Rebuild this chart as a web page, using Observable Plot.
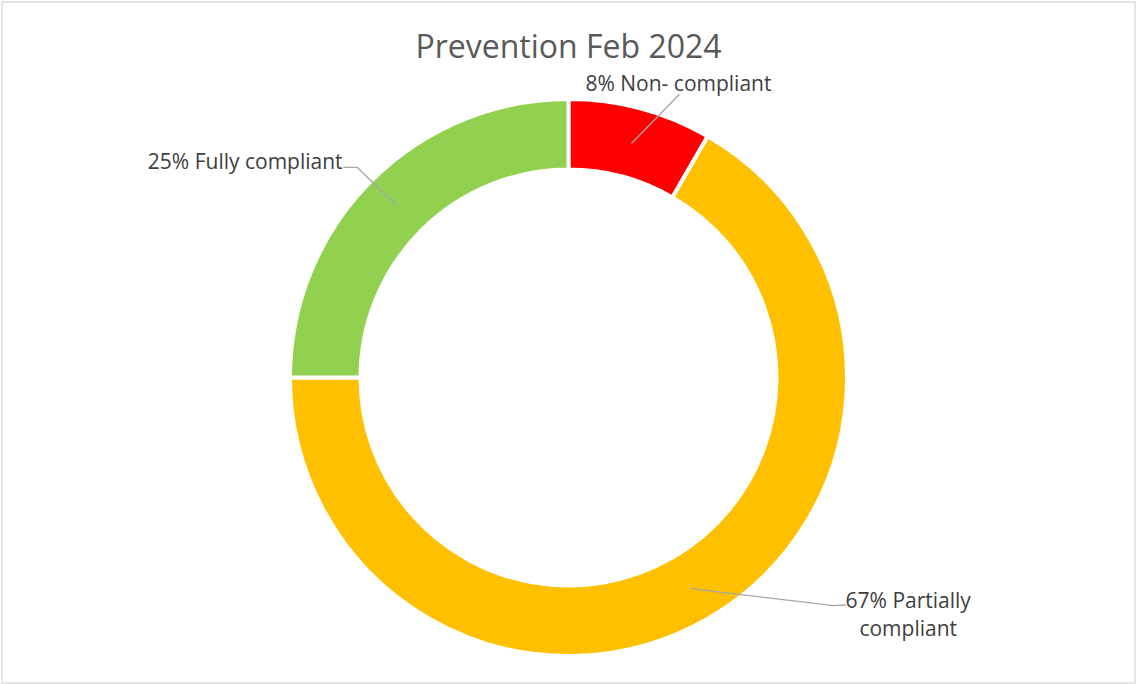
<!DOCTYPE html>
<html><head><meta charset="utf-8">
<script src="https://cdn.jsdelivr.net/npm/d3@7"></script>
<script src="https://cdn.jsdelivr.net/npm/@observablehq/plot@0.6"></script>
<style>
html,body{margin:0;padding:0;background:#fff;}
#chart{width:1136px;height:684px;}
</style></head><body><div id="chart"></div>
<script>
// ---- data ----
const title = "Prevention Feb 2024";
const categories = ["Non- compliant", "Partially compliant", "Fully compliant"];
const values = [1, 8, 3];            // counts -> 8%, 67%, 25%
const colors = ["#FF0000", "#FFC000", "#92D050"];

// ---- layout (unit = outer radius of the ring) ----
const W = 1136, H = 684;
const CX = 568.5, CY = 377.5, R = 278.5;   // ring centre / outer radius in px
const INNER = 208 / 278.5;                  // inner radius ratio
// label anchor & leader elbow points, in ring units relative to centre (y downward)
const labelLayout = [
  {x: 0.393, y: -1.062, anchor: "middle", wrap: false, leader: [[0.395, -1.017]]},
  {x: 1.218, y: 0.843, anchor: "middle", wrap: true, leader: [[0.950, 0.817], [0.993, 0.815]]},
  {x: -0.813, y: -0.783, anchor: "end", wrap: false, leader: [[-0.760, -0.756], [-0.808, -0.756]]}
];

const total = d3.sum(values);
const rows = categories.map((c, i) => {
  const pct = Math.round(values[i] / total * 100);
  const name = labelLayout[i].wrap ? c.replace(" ", "\n") : c;
  return {key: c, value: values[i], color: colors[i], label: `${pct}% ${name}`, i};
});
const arcs = d3.pie().sort(null).value(d => d.value)(rows);

const midR = (INNER + 1) / 2;
const leaderPts = [];
arcs.forEach((a, i) => {
  const ang = (a.startAngle + a.endAngle) / 2;
  leaderPts.push({key: a.data.key, x: midR * Math.sin(ang), y: -midR * Math.cos(ang)});
  for (const [lx, ly] of labelLayout[i].leader) leaderPts.push({key: a.data.key, x: lx, y: ly});
});
const labelRows = rows.map((r, i) => ({...r, x: labelLayout[i].x, y: labelLayout[i].y, anchor: labelLayout[i].anchor}));

function donut(index, scales) {
  const x0 = scales.x(0), y0 = scales.y(0);
  const unit = scales.x(1) - scales.x(0);
  const arc = d3.arc().innerRadius(INNER * unit).outerRadius(unit);
  const g = d3.create("svg:g").attr("transform", `translate(${x0},${y0})`);
  g.selectAll("path").data(arcs).join("path")
    .attr("d", arc)
    .attr("fill", d => d.data.color)
    .attr("stroke", "#ffffff")
    .attr("stroke-width", 4);
  return g.node();
}

const chart = Plot.plot({
  width: W, height: H,
  margin: 0,
  style: {fontFamily: "'Open Sans', sans-serif", background: "#ffffff"},
  x: {domain: [-CX / R, (W - CX) / R], range: [0, W], axis: null},
  y: {domain: [-CY / R, (H - CY) / R], range: [0, H], axis: null},
  marks: [
    Plot.frame({stroke: "#d9d9d9", strokeWidth: 1.4, inset: 1.5}),
    donut,
    Plot.line(leaderPts, {x: "x", y: "y", z: "key", stroke: "#a6a6a6", strokeWidth: 1.3}),
    ...["middle", "end"].map(anchor => Plot.text(labelRows.filter(d => d.anchor === anchor), {
      x: "x", y: "y", text: "label", textAnchor: anchor,
      fontSize: 21, lineHeight: 1.333, fill: "#404040"
    })),
    Plot.text([title], {
      text: d => d, frameAnchor: "top", lineAnchor: "top", dy: 35,
      fontSize: 32, fill: "#595959"
    })
  ]
});
document.getElementById("chart").append(chart);
</script>
</body></html>
